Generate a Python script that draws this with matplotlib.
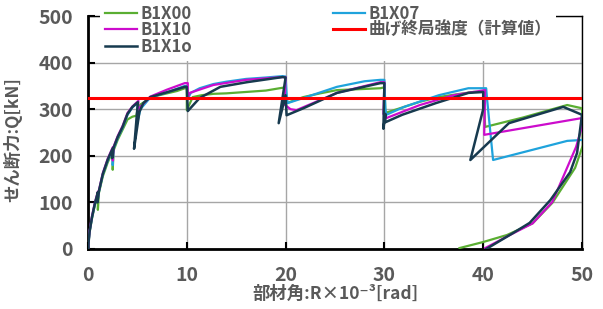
import numpy as np
import matplotlib
matplotlib.use("Agg")
import matplotlib.pyplot as plt

plt.rcParams['font.family'] = ['Noto Sans CJK JP', 'DejaVu Sans']

# data: drift angle R [x1e-3 rad], shear force Q [kN]
x_b1x00 = [0, 0.15, 0.4, 0.7, 1.0, 1.0, 1.1, 1.5, 2.0, 2.5, 2.5, 2.6, 3.0, 3.5, 4.0, 4.5, 4.9,
           5.0, 5.3, 6.3, 7.0, 8.0, 9.0, 9.8, 10.0, 10.0, 10.6, 11.5, 12.7, 14.0, 16.0, 18.0,
           19.4, 20.0, 20.1, 21.8, 23.5, 25.2, 27.5, 29.6, 30.0, 30.1, 32.0, 33.6, 35.5, 37.0,
           39.0, 40.0, 40.2, 44.0, 48.5, 50.0, 50.1, 49.3, 47.0, 45.0, 42.4, 40.0, 37.6]
q_b1x00 = [0, 35, 65, 95, 118, 84, 120, 156, 186, 210, 170, 212, 234, 256, 278, 284, 286,
           298, 310, 324, 329, 334, 339, 345, 345, 298, 326, 330, 333, 334, 337, 340,
           345, 347, 313, 326, 334, 341, 343, 345, 347, 292, 305, 316, 326, 331,
           337, 337, 262, 282, 309, 302, 223, 174, 99, 55, 30, 15, 2]

x_b1x07 = [0, 0.15, 0.4, 0.7, 1.0, 1.0, 1.1, 1.5, 2.0, 2.5, 2.5, 2.6, 3.0, 3.5, 4.0, 4.5,
           5.05, 4.9, 5.3, 6.3, 8.0, 9.8, 10.0, 10.1, 10.4, 11.3, 12.7, 14.0, 16.0, 18.0,
           19.7, 20.0, 20.1, 20.2, 21.8, 25.2, 28.0, 29.6, 30.0, 30.1, 30.2, 32.0, 35.5,
           38.5, 40.3, 40.4, 41.0, 48.5, 50.0]
q_b1x07 = [0, 36, 67, 97, 120, 105, 122, 160, 190, 214, 180, 216, 238, 260, 288, 304,
           314, 262, 300, 325, 336, 350, 350, 322, 335, 345, 354, 359, 365, 368,
           371, 370, 334, 313, 324, 348, 360, 363, 363, 300, 288, 305, 330,
           345, 345, 320, 191, 232, 234]

x_b1x10 = [0, 0.15, 0.4, 0.7, 1.0, 1.0, 1.1, 1.5, 2.0, 2.5, 2.5, 2.6, 3.0, 3.5, 4.0, 4.5,
           5.1, 5.0, 5.3, 6.3, 8.0, 9.8, 10.1, 10.1, 10.3, 12.7, 16.0, 19.7, 20.0, 19.9,
           20.5, 21.1, 25.2, 29.6, 30.0, 29.9, 30.2, 33.6, 37.0, 40.2, 40.1, 50.0, 49.9,
           49.4, 47.0, 45.0, 42.7, 40.2]
q_b1x10 = [0, 38, 70, 100, 123, 110, 125, 163, 194, 218, 190, 220, 242, 264, 292, 306,
           318, 285, 305, 327, 342, 356, 356, 326, 335, 352, 363, 369, 369, 310,
           300, 298, 335, 358, 358, 290, 281, 309, 330, 341, 245, 281, 255,
           219, 101, 55, 30, 2]

x_b1x1o = [0, 0.15, 0.4, 0.7, 1.0, 0.95, 1.1, 1.5, 2.0, 2.5, 2.45, 2.6, 3.0, 3.5, 4.0, 4.5,
           5.05, 4.66, 5.2, 5.6, 6.3, 8.1, 9.8, 10.0, 10.1, 11.3, 13.4, 16.1, 19.7, 20.0,
           19.3, 20.0, 20.1, 21.8, 25.2, 29.6, 30.0, 29.9, 30.1, 30.1, 31.8, 35.2, 38.5,
           40.0, 40.0, 38.7, 42.6, 48.1, 50.0, 49.5, 48.8, 46.8, 44.7, 43.0, 40.3]
q_b1x1o = [0, 36, 68, 98, 122, 100, 124, 161, 192, 216, 195, 218, 240, 262, 290, 305,
           315, 215, 294, 313, 326, 337, 348, 348, 296, 324, 348, 358, 369, 368,
           270, 330, 287, 302, 335, 356, 356, 258, 290, 272, 288, 313, 335,
           337, 300, 191, 270, 305, 288, 206, 165, 105, 56, 34, 0]

q_calc = 324  # 曲げ終局強度(計算値)

gray = '#595959'

fig = plt.figure(figsize=(6.03, 3.09), dpi=100)
ax = fig.add_axes([88 / 603, 1 - 249 / 309, 494 / 603, 233 / 309])

ax.grid(True, color='#a6a6a6', linewidth=1.0, zorder=0)
ax.set_axisbelow(True)

l00, = ax.plot(x_b1x00, q_b1x00, color='#5aae32', lw=1.6, label='B1X00', zorder=3)
l07, = ax.plot(x_b1x07, q_b1x07, color='#1fa3dc', lw=1.6, label='B1X07', zorder=3)
l10, = ax.plot(x_b1x10, q_b1x10, color='#cc0ccc', lw=1.6, label='B1X10', zorder=3)
l1o, = ax.plot(x_b1x1o, q_b1x1o, color='#173a4f', lw=1.8, label='B1X1o', zorder=3)
lr = ax.axhline(q_calc, color='#ff0000', lw=2.2, label='曲げ終局強度（計算値）', zorder=4)

ax.set_xlim(0, 50)
ax.set_ylim(0, 500)
ax.set_xticks([0, 10, 20, 30, 40, 50])
ax.set_yticks([0, 100, 200, 300, 400, 500])

for s in ['left', 'bottom']:
    ax.spines[s].set_linewidth(2.0)
for s in ['right', 'top']:
    ax.spines[s].set_linewidth(1.0)

ax.tick_params(direction='in', length=5, width=1.5, colors='black',
               labelcolor=gray, labelsize=14)
ax.tick_params(axis='y', pad=11)
ax.tick_params(axis='x', pad=12)
for t in ax.get_xticklabels() + ax.get_yticklabels():
    t.set_fontweight('bold')

ax.set_xlabel('部材角:R×10⁻³[rad]', fontsize=12.5, fontweight='bold', color=gray, labelpad=0)
ax.set_ylabel('せん断力:Q[kN]', fontsize=12.5, fontweight='bold', color=gray)
ax.yaxis.set_label_coords(-0.132, 0.47)

leg = ax.legend([l00, l10, l1o, l07, lr],
                ['B1X00', 'B1X10', 'B1X1o', 'B1X07', '曲げ終局強度（計算値）'],
                ncol=2, loc='upper left', bbox_to_anchor=(100 / 603, 1.0),
                bbox_transform=fig.transFigure, frameon=True, fancybox=False,
                facecolor='white', edgecolor='none', framealpha=1.0,
                prop={'size': 12, 'weight': 'bold'}, handlelength=1.9,
                handletextpad=0.2, labelspacing=-0.1, columnspacing=8.5,
                borderpad=0.3, borderaxespad=0)
for t in leg.get_texts():
    t.set_color(gray)
leg.set_zorder(10)

fig.savefig('out.png', dpi=100)
